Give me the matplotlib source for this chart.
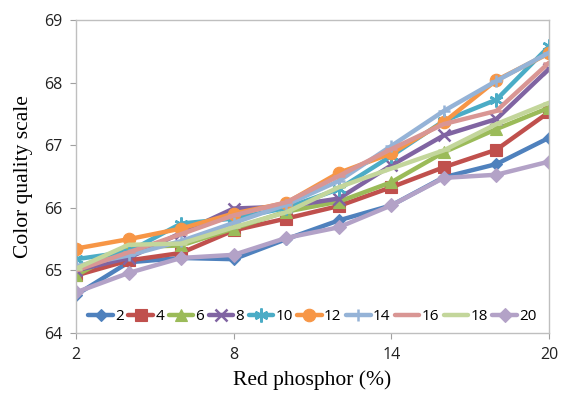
import numpy as np
import matplotlib
matplotlib.use('Agg')
import matplotlib.pyplot as plt

# 数据：横坐标为红色荧光粉比例，每条线一个系列
x = [2, 4, 6, 8, 10, 12, 14, 16, 18, 20]
series_names = ['2', '4', '6', '8', '10', '12', '14', '16', '18', '20']
s2 = [64.61, 65.13, 65.20, 65.18, 65.50, 65.80, 66.04, 66.49, 66.70, 67.12]
s4 = [64.92, 65.16, 65.28, 65.64, 65.83, 66.03, 66.33, 66.65, 66.93, 67.53]
s6 = [64.92, 65.37, 65.40, 65.67, 65.94, 66.10, 66.41, 66.89, 67.26, 67.60]
s8 = [65.00, 65.20, 65.60, 65.99, 66.02, 66.15, 66.68, 67.16, 67.42, 68.22]
s10 = [65.18, 65.30, 65.75, 65.83, 66.00, 66.30, 66.83, 67.39, 67.73, 68.58]
s12 = [65.35, 65.50, 65.67, 65.91, 66.08, 66.56, 66.87, 67.37, 68.04, 68.47]
s14 = [65.07, 65.24, 65.47, 65.76, 66.05, 66.43, 66.99, 67.55, 68.03, 68.48]
s16 = [65.00, 65.29, 65.58, 65.88, 66.09, 66.51, 66.94, 67.34, 67.55, 68.32]
s18 = [65.03, 65.41, 65.43, 65.69, 65.93, 66.33, 66.63, 66.92, 67.34, 67.68]
s20 = [64.65, 64.96, 65.20, 65.25, 65.52, 65.69, 66.04, 66.48, 66.53, 66.74]
all_series = [s2, s4, s6, s8, s10, s12, s14, s16, s18, s20]

colors = ['#4F81BD', '#C0504D', '#9BBB59', '#8064A2', '#4BACC6',
          '#F79646', '#95B3D7', '#D99694', '#C3D69B', '#B3A2C7']
markers = ['D', 's', '^', 'x', (6, 2, 0), 'o', '+', '_', '_', 'D']
msizes = [6, 8, 8, 9, 10, 9, 9, 9, 9, 7]

fig = plt.figure(figsize=(5.61, 3.96), dpi=100)
ax = fig.add_axes([0.1355, 0.159, 0.843, 0.79])

for ys, c, m, ms, name in zip(all_series, colors, markers, msizes, series_names):
    thin = m in ['x', '+', '_'] or isinstance(m, tuple)
    ax.plot(x, ys, color=c, lw=3.2, marker=m, markersize=ms,
            markeredgecolor=c, markeredgewidth=1.8 if thin else 0.8,
            label=name, solid_capstyle='round', solid_joinstyle='round')

ax.set_xlim(2, 20)
ax.set_ylim(64, 69)
ax.set_xticks([2, 8, 14, 20])
ax.set_yticks([64, 65, 66, 67, 68, 69])
ax.tick_params(axis='both', direction='out', length=4, color='#A0A0A0',
               labelsize=11.5, labelcolor='#222222', pad=6)
for lab in ax.get_xticklabels() + ax.get_yticklabels():
    lab.set_family('Open Sans')
for sp in ax.spines.values():
    sp.set_color('#BFBFBF')
    sp.set_linewidth(1)

ax.set_xlabel('Red phosphor (%)', family='Liberation Serif', fontsize=15.5, labelpad=5)
ax.set_ylabel('Color quality scale', family='Liberation Serif', fontsize=15.5, labelpad=8)

leg = ax.legend(loc='lower center', ncol=10, frameon=False, handlelength=1.6,
                handletextpad=0.15, columnspacing=0.3, borderaxespad=0.2,
                prop={'family': 'Open Sans', 'size': 11})

fig.savefig('out.png', dpi=100)
